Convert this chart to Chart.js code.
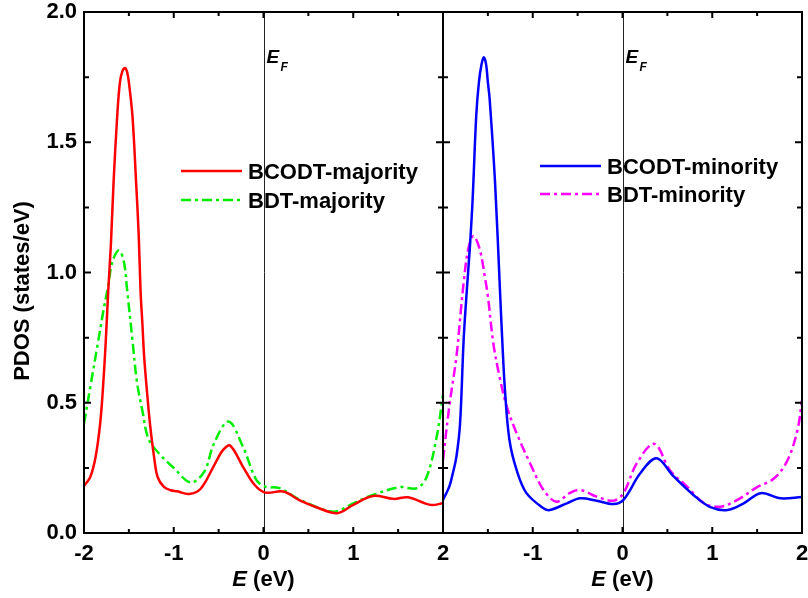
<!DOCTYPE html>
<html>
<head>
<meta charset="utf-8">
<script src="https://cdn.jsdelivr.net/npm/chart.js@4.4.1/dist/chart.umd.min.js"></script>
<style>
  html, body { margin: 0; padding: 0; background: #fff; }
</style>
</head>
<body>
<canvas id="pdos" width="808" height="598"></canvas>
<script>
// PDOS, majority (left panel) and minority (right panel)
const bcodtMajE = [-2.00, -1.93, -1.87, -1.82, -1.79, -1.76, -1.73, -1.70, -1.67, -1.63, -1.60, -1.57, -1.543, -1.52, -1.50, -1.46, -1.42, -1.39, -1.37, -1.35, -1.33, -1.30, -1.265, -1.22, -1.18, -1.11, -1.035, -0.96, -0.83, -0.70, -0.55, -0.45, -0.37, -0.23, -0.10, 0.02, 0.22, 0.41, 0.59, 0.82, 1.00, 1.22, 1.45, 1.61, 1.86, 2.00];
const bcodtMajY = [0.18, 0.215, 0.294, 0.42, 0.55, 0.72, 0.93, 1.11, 1.35, 1.60, 1.73, 1.775, 1.785, 1.77, 1.73, 1.60, 1.35, 1.14, 0.93, 0.807, 0.678, 0.55, 0.42, 0.294, 0.215, 0.177, 0.164, 0.16, 0.15, 0.17, 0.26, 0.319, 0.335, 0.255, 0.185, 0.155, 0.159, 0.124, 0.099, 0.076, 0.108, 0.142, 0.131, 0.137, 0.108, 0.114];

const bdtMajE = [-2.00, -1.93, -1.85, -1.78, -1.73, -1.685, -1.61, -1.555, -1.52, -1.46, -1.41, -1.35, -1.28, -1.15, -1.00, -0.81, -0.66, -0.55, -0.39, -0.23, -0.08, 0.02, 0.18, 0.41, 0.78, 1.00, 1.22, 1.52, 1.71, 1.82, 1.93, 2.00];
const bdtMajY = [0.42, 0.56, 0.72, 0.86, 0.95, 1.04, 1.085, 1.04, 0.935, 0.74, 0.58, 0.47, 0.36, 0.30, 0.25, 0.194, 0.236, 0.345, 0.428, 0.332, 0.204, 0.178, 0.172, 0.127, 0.082, 0.114, 0.146, 0.176, 0.172, 0.217, 0.37, 0.53];

const bcodtMinE = [-2.00, -1.93, -1.89, -1.85, -1.81, -1.77, -1.735, -1.70, -1.67, -1.63, -1.60, -1.57, -1.546, -1.52, -1.50, -1.48, -1.42, -1.365, -1.34, -1.31, -1.26, -1.18, -1.07, -0.88, -0.81, -0.62, -0.47, -0.29, -0.10, 0.01, 0.20, 0.38, 0.57, 0.79, 0.98, 1.17, 1.35, 1.54, 1.76, 2.00];
const bcodtMinY = [0.127, 0.178, 0.23, 0.294, 0.42, 0.742, 0.93, 1.10, 1.28, 1.60, 1.73, 1.80, 1.826, 1.80, 1.73, 1.665, 1.345, 0.93, 0.742, 0.55, 0.358, 0.242, 0.153, 0.095, 0.088, 0.114, 0.133, 0.124, 0.111, 0.127, 0.23, 0.287, 0.217, 0.146, 0.099, 0.088, 0.114, 0.153, 0.133, 0.138];

const bdtMinE = [-2.00, -1.93, -1.85, -1.80, -1.77, -1.72, -1.66, -1.59, -1.535, -1.50, -1.44, -1.37, -1.29, -1.18, -1.03, -0.88, -0.735, -0.59, -0.47, -0.29, -0.10, 0.01, 0.16, 0.355, 0.53, 0.72, 0.91, 1.09, 1.28, 1.50, 1.69, 1.84, 1.95, 2.00];
const bdtMinY = [0.28, 0.486, 0.678, 0.858, 0.96, 1.088, 1.14, 1.088, 0.986, 0.91, 0.73, 0.60, 0.486, 0.383, 0.268, 0.165, 0.12, 0.153, 0.165, 0.14, 0.124, 0.153, 0.268, 0.342, 0.24, 0.178, 0.114, 0.101, 0.127, 0.176, 0.21, 0.28, 0.396, 0.51];

const seriesLabels = ['BCODT-majority', 'BDT-majority', 'BCODT-minority', 'BDT-minority'];
const energyTicks = [-2, -1, 0, 1, 2];
const pdosTicks = [0.0, 0.5, 1.0, 1.5, 2.0];

const FONT = '"Liberation Sans", Arial, sans-serif';

const toPoints = (xs, ys) => xs.map((x, i) => ({ x: x, y: ys[i] }));

function drawRich(ctx, parts, x, y, align) {
  let total = 0;
  for (const p of parts) { ctx.font = p.font; total += ctx.measureText(p.text).width; }
  let cx = align === 'center' ? x - total / 2 : x;
  for (const p of parts) {
    ctx.font = p.font;
    ctx.fillText(p.text, cx, y + (p.dy || 0));
    cx += ctx.measureText(p.text).width;
  }
}

const framePlugin = {
  id: 'frame',
  beforeDatasetsDraw(chart) {
    const { ctx, chartArea: a } = chart;
    ctx.save();
    ctx.strokeStyle = '#222';
    ctx.lineWidth = 1;
    for (const id of ['xL', 'xR']) {
      const px = Math.round(chart.scales[id].getPixelForValue(0)) + 0.5;
      ctx.beginPath();
      ctx.moveTo(px, a.top);
      ctx.lineTo(px, a.bottom);
      ctx.stroke();
    }
    ctx.restore();
  },
  afterDraw(chart) {
    const { ctx, chartArea: a } = chart;
    const yS = chart.scales.y;
    ctx.save();
    ctx.strokeStyle = '#000';
    ctx.fillStyle = '#000';
    ctx.lineWidth = 2;

    for (const id of ['xL', 'xR']) {
      const s = chart.scales[id];
      ctx.strokeRect(s.left, a.top, s.right - s.left, a.bottom - a.top);
      ctx.beginPath();
      // x ticks, inward on top and bottom
      for (let v = -2; v <= 2; v += 0.5) {
        const px = s.getPixelForValue(v);
        const len = Number.isInteger(v) ? 6 : 4;
        ctx.moveTo(px, a.bottom); ctx.lineTo(px, a.bottom - len);
        ctx.moveTo(px, a.top); ctx.lineTo(px, a.top + len);
      }
      // y ticks, inward on both sides of the panel
      for (let v = 0; v <= 2; v += 0.25) {
        const py = yS.getPixelForValue(v);
        const len = Math.abs(v * 2 - Math.round(v * 2)) < 1e-6 ? 7 : 5;
        ctx.moveTo(s.left, py); ctx.lineTo(s.left + len, py);
        ctx.moveTo(s.right, py); ctx.lineTo(s.right - len, py);
      }
      ctx.stroke();

      // E_F label
      const zx = s.getPixelForValue(0);
      ctx.textAlign = 'left';
      ctx.textBaseline = 'alphabetic';
      ctx.font = 'italic bold 19px ' + FONT;
      ctx.fillText('E', zx + 3, a.top + 51);
      ctx.font = 'italic bold 12px ' + FONT;
      ctx.fillText('F', zx + 17, a.top + 59);

      // x axis title
      drawRich(ctx, [
        { text: 'E', font: 'italic bold 22px ' + FONT },
        { text: ' (eV)', font: 'bold 22px ' + FONT }
      ], (s.left + s.right) / 2, 586, 'center');
    }

    // legends
    const legends = [
      { scale: 'xL', sets: [0, 1], dy: 159, gap: 29 },
      { scale: 'xR', sets: [2, 3], dy: 154, gap: 28 }
    ];
    for (const lg of legends) {
      const s = chart.scales[lg.scale];
      lg.sets.forEach((di, k) => {
        const ds = chart.data.datasets[di];
        const ly = a.top + lg.dy + k * lg.gap;
        const lx = s.left + 97;
        ctx.save();
        ctx.strokeStyle = ds.borderColor;
        ctx.lineWidth = ds.borderWidth;
        ctx.setLineDash(ds.borderDash || []);
        ctx.beginPath();
        ctx.moveTo(lx, ly);
        ctx.lineTo(lx + 61, ly);
        ctx.stroke();
        ctx.restore();
        ctx.font = 'bold 22px ' + FONT;
        ctx.textAlign = 'left';
        ctx.textBaseline = 'alphabetic';
        ctx.fillText(ds.label, lx + 67, ly + 8);
      });
    }

    // y axis title
    ctx.save();
    ctx.translate(29, 291);
    ctx.rotate(-Math.PI / 2);
    ctx.font = 'bold 22px ' + FONT;
    ctx.textAlign = 'center';
    ctx.textBaseline = 'alphabetic';
    ctx.fillText('PDOS (states/eV)', 0, 0);
    ctx.restore();

    ctx.restore();
  }
};

const lineBase = { fill: false, pointRadius: 0, borderWidth: 2.5, tension: 0.35, yAxisID: 'y' };

const xAxis = (hideFirst) => ({
  type: 'linear',
  position: 'bottom',
  stack: 'energy',
  stackWeight: 1,
  min: -2,
  max: 2,
  afterFit: (s) => { s.height = 65; s.paddingLeft = 0; s.paddingRight = 0; },
  afterBuildTicks: (s) => { s.ticks = energyTicks.map(v => ({ value: v })); },
  border: { display: false },
  grid: { display: false, drawTicks: false },
  ticks: {
    autoSkip: false,
    maxRotation: 0,
    padding: 8,
    color: '#000',
    font: { family: FONT, size: 22, weight: 'bold' },
    callback: (v) => (hideFirst && v === -2) ? '' : String(v)
  }
});

new Chart(document.getElementById('pdos'), {
  type: 'line',
  data: {
    datasets: [
      Object.assign({}, lineBase, { label: seriesLabels[0], xAxisID: 'xL', data: toPoints(bcodtMajE, bcodtMajY), borderColor: '#ff0000' }),
      Object.assign({}, lineBase, { label: seriesLabels[1], xAxisID: 'xL', data: toPoints(bdtMajE, bdtMajY), borderColor: '#00ee00', borderDash: [10, 4, 3, 4] }),
      Object.assign({}, lineBase, { label: seriesLabels[2], xAxisID: 'xR', data: toPoints(bcodtMinE, bcodtMinY), borderColor: '#0000ff' }),
      Object.assign({}, lineBase, { label: seriesLabels[3], xAxisID: 'xR', data: toPoints(bdtMinE, bdtMinY), borderColor: '#ff00ff', borderDash: [10, 4, 3, 4] })
    ]
  },
  options: {
    responsive: false,
    animation: false,
    layout: { padding: { top: 12, right: 6, left: 0, bottom: 0 } },
    plugins: { legend: { display: false }, tooltip: { enabled: false } },
    scales: {
      xL: xAxis(false),
      xR: xAxis(true),
      y: {
        type: 'linear',
        position: 'left',
        min: 0,
        max: 2,
        afterFit: (s) => { s.width = 84; s.paddingTop = 0; s.paddingBottom = 0; },
        afterBuildTicks: (s) => { s.ticks = pdosTicks.map(v => ({ value: v })); },
        border: { display: false },
        grid: { display: false, drawTicks: false },
        ticks: {
          padding: 7,
          color: '#000',
          font: { family: FONT, size: 22, weight: 'bold' },
          callback: (v) => Number(v).toFixed(1)
        }
      }
    }
  },
  plugins: [framePlugin]
});
</script>
</body>
</html>
